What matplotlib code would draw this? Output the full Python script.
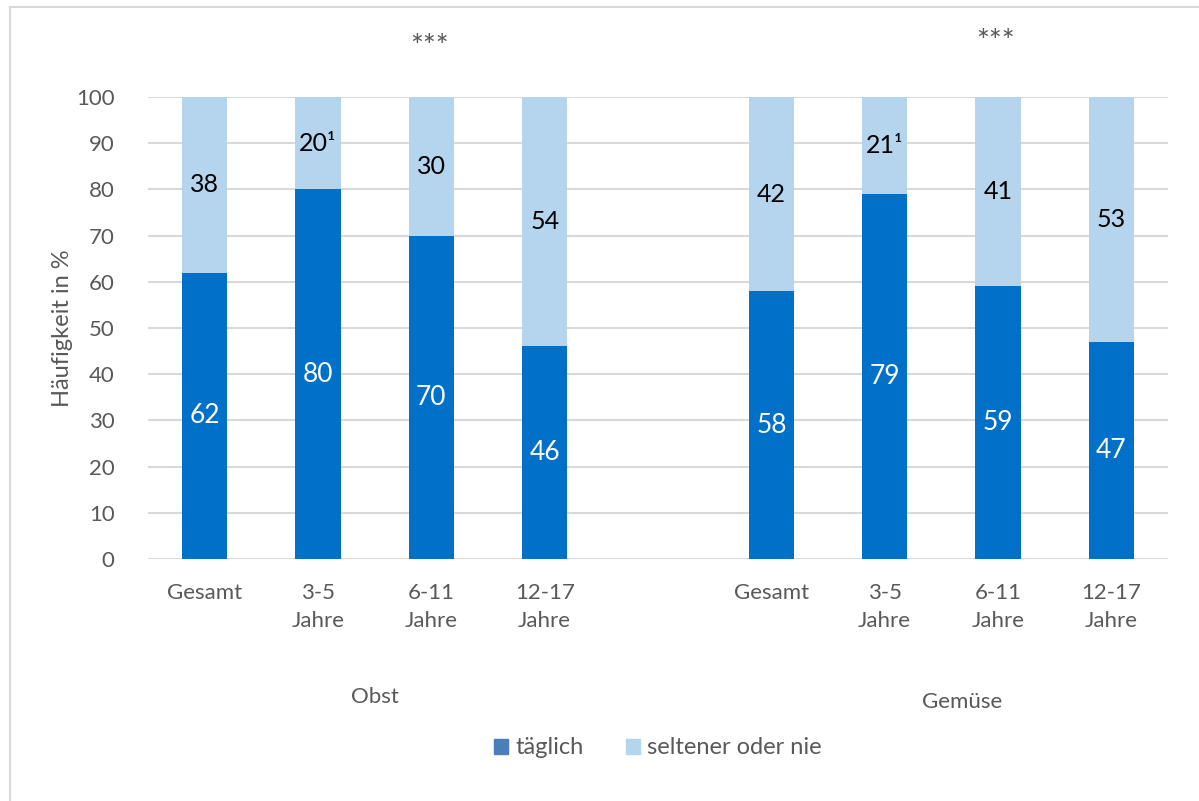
import matplotlib.pyplot as plt
from matplotlib.lines import Line2D
from matplotlib.patches import Patch

plt.rcParams['font.family'] = ['Lato', 'DejaVu Sans']

# Häufigkeit Obst- und Gemüseverzehr nach Alter
kategorien = ['Gesamt', '3-5\nJahre', '6-11\nJahre', '12-17\nJahre']
obst_taeglich = [62, 80, 70, 46]
obst_selten = [38, 20, 30, 54]
gemuese_taeglich = [58, 79, 59, 47]
gemuese_selten = [42, 21, 41, 53]
obst_selten_text = ['38', '20¹', '30', '54']
gemuese_selten_text = ['42', '21¹', '41', '53']

dunkel = '#0070c8'
hell = '#b5d4ee'
grau = '#595959'

fig = plt.figure(figsize=(11.99, 8.01), dpi=100)
ax = fig.add_axes([148 / 1199, 1 - 559 / 801, 1020 / 1199, 462 / 801])

pos = [0, 1, 2, 3, 5, 6, 7, 8]
taeglich = obst_taeglich + gemuese_taeglich
selten = obst_selten + gemuese_selten
selten_text = obst_selten_text + gemuese_selten_text
breite = 0.4

ax.bar(pos, taeglich, width=breite, color=dunkel, zorder=3)
ax.bar(pos, selten, width=breite, bottom=taeglich, color=hell, zorder=3)

for x, t, s, st in zip(pos, taeglich, selten, selten_text):
    ax.text(x, t / 2, str(t), ha='center', va='center', color='white', fontsize=19, zorder=4)
    ax.text(x, t + s / 2, st, ha='center', va='center', color='black', fontsize=18, zorder=4)

ax.set_xlim(-0.5, 8.5)
ax.set_ylim(0, 100)
ax.set_yticks(range(0, 101, 10))
ax.set_xticks(pos)
ax.set_xticklabels(kategorien * 2, linespacing=1.55)
ax.tick_params(axis='both', length=0, colors=grau, labelsize=16)
ax.tick_params(axis='x', pad=17)
ax.tick_params(axis='y', pad=24)
ax.grid(axis='y', color='#d9d9d9', linewidth=1.5, zorder=0)
for sp in ax.spines.values():
    sp.set_visible(False)
ax.set_ylabel('Häufigkeit in %', color=grau, fontsize=17, labelpad=2)

# Gruppenbeschriftungen und Signifikanzsterne
fig.text(375 / 1199, 1 - 697 / 801, 'Obst', ha='center', va='center', color=grau, fontsize=16)
fig.text(962 / 1199, 1 - 702 / 801, 'Gemüse', ha='center', va='center', color=grau, fontsize=16)
fig.text(430 / 1199, 1 - 47 / 801, '***', ha='center', va='center', color=grau, fontsize=22)
fig.text(995 / 1199, 1 - 42 / 801, '***', ha='center', va='center', color=grau, fontsize=22)

handles = [Patch(color='#4a7ebb', label='täglich'), Patch(color=hell, label='seltener oder nie')]
fig.legend(handles=handles, loc='center', bbox_to_anchor=(658 / 1199, 1 - 748 / 801), ncol=2,
           frameon=False, fontsize=17, handlelength=0.6, handleheight=0.6, handletextpad=0.3,
           columnspacing=1.8, labelcolor=grau)

# Rahmenlinien oben und links
fig.add_artist(Line2D([10 / 1199, 1], [1 - 7 / 801, 1 - 7 / 801], color='#d9d9d9', linewidth=1.5))
fig.add_artist(Line2D([10 / 1199, 10 / 1199], [0, 1 - 7 / 801], color='#d9d9d9', linewidth=1.5))

fig.savefig('out.png', dpi=100)
